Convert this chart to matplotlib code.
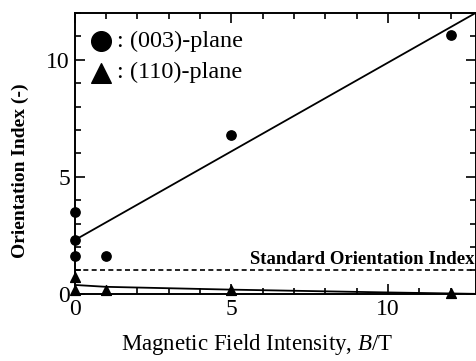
import matplotlib
matplotlib.use("Agg")
import matplotlib.pyplot as plt
import numpy as np
from matplotlib.ticker import MultipleLocator

plt.rcParams['font.family'] = ['Liberation Serif', 'DejaVu Serif']
plt.rcParams['mathtext.fontset'] = 'custom'
plt.rcParams['mathtext.it'] = 'Liberation Serif:italic'
plt.rcParams['mathtext.rm'] = 'Liberation Serif'

# data
b_003 = [0, 0, 0, 1, 5, 12]
oi_003 = [3.5, 2.3, 1.6, 1.6, 6.8, 11.05]
b_110 = [0, 0, 1, 5, 12]
oi_110 = [0.7, 0.15, 0.15, 0.15, 0.05]
fit_003_x = [0, 12.8]
fit_003_y = [2.3, 12.0]
fit_110_x = [0, 1, 5, 10, 12.8]
fit_110_y = [0.38, 0.3, 0.18, 0.06, 0.0]
standard_oi = 1.0

fig = plt.figure(figsize=(4.77, 3.61), dpi=100)
ax = fig.add_axes([0.157, 0.186, 0.84, 0.778])

ax.plot(fit_003_x, fit_003_y, color='black', lw=1.3)
ax.plot(fit_110_x, fit_110_y, color='black', lw=1.3)
ax.axhline(standard_oi, color='black', lw=1.2, ls=(0, (3, 2)))
ax.scatter(b_003, oi_003, marker='o', s=45, color='black', zorder=3, clip_on=False)
ax.scatter(b_110, oi_110, marker='^', s=50, color='black', zorder=3, clip_on=False)

ax.text(12.75, 1.12, 'Standard Orientation Index', ha='right', va='bottom',
        fontsize=13.5, fontweight='bold')

# legend-like annotations
ax.scatter([0.85], [10.8], marker='o', s=200, color='black', clip_on=False)
ax.text(1.35, 10.8, ': (003)-plane', va='center', fontsize=17.5)
ax.scatter([0.85], [9.45], marker='^', s=200, color='black', clip_on=False)
ax.text(1.35, 9.45, ': (110)-plane', va='center', fontsize=17.5)

ax.set_xlim(0, 12.8)
ax.set_ylim(0, 12)
ax.xaxis.set_major_locator(MultipleLocator(5))
ax.xaxis.set_minor_locator(MultipleLocator(1))
ax.yaxis.set_major_locator(MultipleLocator(5))
ax.yaxis.set_minor_locator(MultipleLocator(1))
ax.tick_params(which='both', direction='in', top=True, right=True, labelsize=17, width=1.2)
ax.tick_params(which='major', length=7)
ax.tick_params(which='minor', length=4)
for s in ax.spines.values():
    s.set_linewidth(1.4)

ax.set_xlabel('Magnetic Field Intensity, $\\mathit{B}$/T', fontsize=16.5)
ax.xaxis.set_label_coords(0.455, -0.135)
ax.set_ylabel('Orientation Index (-)', fontsize=14, fontweight='bold')
ax.yaxis.set_label_coords(-0.115, 0.44)

fig.savefig('out.png', dpi=100)
